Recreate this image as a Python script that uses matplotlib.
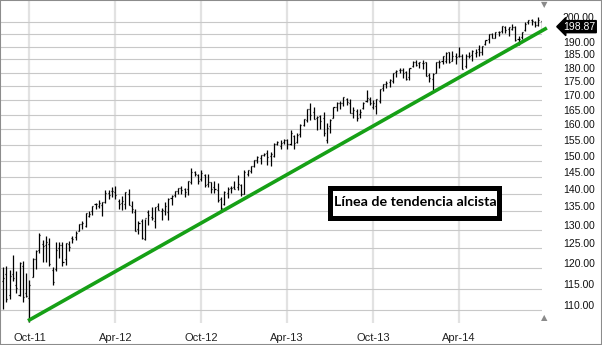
import matplotlib
matplotlib.use("Agg")
import matplotlib.pyplot as plt
import matplotlib.transforms as mtransforms
from matplotlib.patches import Rectangle
from matplotlib.ticker import FixedLocator, NullLocator, NullFormatter
import pandas as pd

# weekly bars, first week starts 2011-08-08
start_week = "2011-08-08"

opens = [
    116.9, 118.5, 113.5, 118.6, 116.0, 113.5, 120.5, 114.0, 112.7, 117.9,
    122.2, 124.7, 126.3, 125.8, 126.3, 119.5, 119.7, 125.0, 126.0, 122.2,
    126.2, 127.8, 128.0, 129.7, 131.4, 131.1, 133.8, 135.1, 137.1, 136.5,
    136.9, 137.6, 140.2, 140.9, 140.6, 138.0, 137.4, 137.0, 140.0, 136.5,
    134.9, 130.1, 132.4, 127.6, 134.9, 133.5, 132.2, 136.4, 135.0, 135.2,
    134.8, 138.8, 139.6, 140.8, 141.8, 141.3, 141.4, 143.6, 146.5, 145.6,
    144.4, 145.6, 143.0, 143.4, 142.0, 141.2, 138.4, 137.2, 140.2, 141.6,
    142.0, 142.0, 142.6, 139.9, 146.0, 146.9, 148.3, 150.3, 150.7, 151.6,
    152.4, 151.5, 151.4, 155.3, 154.6, 156.0, 156.6, 155.3, 158.0, 156.0,
    158.5, 161.6, 163.3, 166.9, 166.0, 163.9, 164.4, 164.0, 156.7, 161.3,
    163.9, 167.7, 169.2, 168.9, 170.6, 169.1, 165.6, 166.4, 165.2, 167.2,
    169.8, 170.4, 167.6, 167.9, 169.9, 174.4, 175.9, 176.7, 177.1, 180.1,
    181.0, 181.1, 180.4, 178.5, 182.4, 184.0, 183.5, 183.7, 184.1, 179.2,
    177.8, 180.0, 183.9, 184.3, 184.4, 187.8, 184.5, 186.5, 186.4, 186.5,
    182.5, 186.4, 186.9, 187.6, 189.0, 187.9, 191.1, 192.9, 195.1, 193.4,
    195.9, 196.1, 197.9, 197.2, 197.2, 198.0, 193.0, 194.0, 196.8, 200.1,
    200.9, 200.0, 198.6, 200.2,
]
highs = [
    120.2, 120.6, 119.5, 123.3, 119.4, 121.5, 121.7, 118.9, 117.0, 122.6,
    124.6, 129.1, 127.3, 128.2, 127.8, 120.2, 126.8, 126.8, 126.7, 126.5,
    126.9, 128.4, 129.6, 131.6, 132.3, 134.6, 135.2, 136.4, 137.3, 138.2,
    137.7, 141.0, 141.1, 142.0, 142.2, 138.6, 139.5, 140.6, 141.4, 137.8,
    135.7, 132.2, 133.0, 133.0, 135.3, 136.3, 136.3, 137.5, 136.0, 137.7,
    138.9, 139.6, 140.9, 141.8, 142.2, 141.8, 143.9, 147.7, 146.7, 146.0,
    147.1, 145.8, 146.0, 143.6, 143.7, 143.1, 139.1, 140.9, 142.0, 142.2,
    143.9, 145.5, 143.0, 147.0, 147.1, 148.3, 150.3, 151.4, 151.8, 152.5,
    153.3, 152.6, 155.5, 156.3, 156.5, 156.9, 157.0, 159.7, 158.1, 158.8,
    161.9, 163.4, 166.9, 169.1, 167.8, 164.4, 165.0, 166.0, 162.2, 163.5,
    167.8, 169.3, 169.9, 171.3, 170.8, 170.3, 167.6, 167.0, 167.0, 169.4,
    173.6, 171.0, 170.0, 170.3, 174.0, 176.0, 177.0, 177.5, 180.0, 181.0,
    181.8, 181.6, 180.8, 181.7, 184.3, 184.7, 184.1, 184.7, 184.2, 180.0,
    179.8, 184.0, 184.9, 186.3, 188.0, 188.0, 188.2, 187.4, 189.7, 187.1,
    187.1, 188.0, 188.5, 189.0, 190.5, 190.4, 192.8, 194.9, 195.4, 196.0,
    196.4, 198.3, 198.2, 198.1, 199.1, 198.3, 194.1, 196.0, 199.8, 200.6,
    201.2, 200.4, 201.9, 200.2,
]
lows = [
    110.3, 111.9, 112.5, 116.9, 114.0, 113.2, 111.9, 113.0, 107.4, 117.8,
    119.9, 123.8, 121.5, 121.6, 120.6, 115.8, 119.2, 122.6, 120.6, 120.9,
    124.4, 126.4, 127.1, 129.6, 130.2, 130.6, 133.4, 133.9, 135.8, 136.0,
    133.7, 137.3, 138.5, 139.0, 138.5, 135.8, 135.5, 135.7, 136.7, 134.6,
    129.5, 128.7, 127.6, 127.1, 131.2, 132.5, 130.3, 135.3, 132.6, 134.1,
    132.6, 136.9, 139.2, 139.9, 139.9, 139.1, 139.6, 142.9, 145.3, 142.9,
    143.7, 142.1, 142.0, 140.3, 140.3, 137.6, 134.7, 136.9, 138.8, 140.2,
    141.3, 141.1, 139.5, 139.9, 145.3, 146.3, 147.9, 149.3, 148.8, 151.4,
    148.7, 148.2, 151.2, 154.8, 153.7, 155.2, 153.6, 154.9, 153.6, 155.7,
    157.6, 161.3, 162.4, 163.2, 163.5, 159.7, 160.3, 157.7, 155.7, 158.8,
    163.8, 166.4, 167.1, 168.1, 168.3, 165.5, 163.7, 163.0, 163.8, 166.8,
    169.3, 168.5, 166.9, 165.3, 168.9, 173.3, 174.3, 174.9, 176.2, 178.5,
    180.0, 178.0, 177.3, 177.3, 182.2, 182.5, 181.6, 181.3, 178.8, 176.6,
    173.7, 179.8, 181.7, 183.4, 183.8, 183.8, 184.3, 183.3, 186.1, 181.3,
    181.7, 185.5, 184.6, 186.0, 186.5, 186.8, 190.7, 191.6, 193.4, 193.3,
    194.3, 195.4, 195.6, 194.4, 196.5, 192.1, 190.5, 193.0, 196.2, 199.2,
    198.6, 198.1, 198.3, 196.6,
]
closes = [
    117.6, 112.6, 118.1, 117.5, 115.1, 121.2, 113.1, 113.2, 116.0, 122.4,
    124.3, 128.6, 125.7, 126.7, 121.1, 116.6, 124.6, 125.9, 121.6, 126.4,
    125.5, 127.6, 129.1, 131.5, 131.8, 134.5, 134.4, 136.4, 137.1, 137.3,
    137.6, 140.3, 139.7, 140.8, 139.8, 137.2, 137.8, 140.4, 136.8, 135.7,
    129.7, 131.7, 127.7, 133.1, 134.1, 133.1, 136.1, 135.5, 135.4, 136.5,
    138.6, 139.3, 140.8, 141.8, 141.2, 140.6, 143.8, 146.6, 146.0, 143.9,
    146.1, 142.5, 143.4, 141.4, 141.3, 138.2, 136.0, 140.6, 141.5, 141.8,
    141.4, 142.8, 140.0, 146.4, 147.1, 148.3, 150.3, 151.2, 151.8, 152.1,
    151.0, 152.1, 155.4, 156.0, 155.6, 156.7, 155.2, 158.8, 155.5, 158.2,
    161.4, 163.4, 166.9, 164.8, 163.5, 164.1, 163.0, 159.0, 160.4, 163.1,
    167.5, 169.2, 169.1, 171.0, 169.3, 165.5, 166.6, 163.7, 166.0, 168.9,
    170.7, 169.1, 169.2, 170.3, 174.0, 175.9, 176.2, 177.3, 180.0, 180.6,
    181.0, 180.0, 177.7, 181.6, 184.0, 182.9, 184.1, 183.6, 178.9, 178.2,
    179.7, 184.0, 183.9, 186.3, 187.7, 184.1, 186.2, 185.8, 186.4, 181.5,
    186.4, 186.3, 188.3, 187.9, 187.9, 190.4, 192.7, 194.9, 193.5, 195.9,
    196.0, 198.2, 196.6, 197.7, 197.9, 192.5, 193.2, 195.7, 199.2, 200.7,
    200.2, 198.6, 201.0, 198.87,
]

last_value = 198.87

trend_dates = ["2011-09-30", "2014-10-03"]
trend_values = [107.6, 197.5]

grid_values = [110, 115, 120, 125, 130, 135, 140, 145, 150, 155,
               160, 165, 170, 175, 180, 185, 190, 195, 200]
month_dates = ["2011-10-03", "2012-04-02", "2012-10-01",
               "2013-04-01", "2013-09-30", "2014-03-31"]
month_labels = ["Oct-11", "Apr-12", "Oct-12", "Apr-13", "Oct-13", "Apr-14"]

annotation = "Línea de tendencia alcista"

W, H = 602, 345
dates = pd.date_range(start_week, periods=len(closes), freq="7D")
tick_len = pd.Timedelta(days=2.2)

fig = plt.figure(figsize=(W / 100, H / 100), dpi=100)
ax = fig.add_axes([1 / W, 22 / H, 541 / W, 323 / H])

ax.set_yscale("log")
ax.set_ylim(107.1, 209.3)
ax.set_xlim(dates[0] - pd.Timedelta(days=4.2), dates[0] + pd.Timedelta(days=163.1 * 7))

for s in ax.spines.values():
    s.set_visible(False)

# grid
ax.yaxis.set_major_locator(FixedLocator(grid_values))
ax.yaxis.set_minor_locator(NullLocator())
ax.yaxis.set_minor_formatter(NullFormatter())
ax.set_yticklabels([f"{v:.2f}" for v in grid_values])
ax.grid(axis="y", color="#c8c8c8", linewidth=0.8)
ax.set_xticks(pd.to_datetime(month_dates))
ax.set_xticklabels(month_labels)
ax.grid(axis="x", color="#e2e2e2", linewidth=1.6)
ax.set_axisbelow(True)

ax.yaxis.tick_right()
ax.tick_params(axis="y", length=0, pad=15, labelsize=7.5, labelcolor="#111111")
ax.tick_params(axis="x", length=0, pad=7.5, labelsize=8, labelcolor="#222222")
for lbl in ax.get_yticklabels() + ax.get_xticklabels():
    lbl.set_family(["Liberation Sans", "DejaVu Sans"])
# price labels sit a little above their grid line
offset = mtransforms.ScaledTranslation(0, 5 / 100, fig.dpi_scale_trans)
for tick in ax.yaxis.get_major_ticks():
    tick.label2.set_transform(tick.label2.get_transform() + offset)
ax.get_yticklabels()[-2].set_visible(False)

# OHLC bars
ax.vlines(dates, lows, highs, color="black", linewidth=0.9)
ax.hlines(opens, dates - tick_len, dates, color="black", linewidth=0.9)
ax.hlines(closes, dates, dates + tick_len, color="black", linewidth=0.9)

# trend line
ax.plot(pd.to_datetime(trend_dates), trend_values, color="#16a016",
        linewidth=2.6, solid_capstyle="butt", clip_on=False, zorder=5)

# last value marker
yt = mtransforms.blended_transform_factory(ax.transAxes, ax.transData)
down = mtransforms.ScaledTranslation(0, -2 / 100, fig.dpi_scale_trans)
ax.text(1.039, last_value, f"{last_value:.2f}", transform=yt + down, ha="left", va="center",
        fontsize=7.5, color="white", family=["Liberation Sans", "DejaVu Sans"],
        bbox=dict(boxstyle="larrow,pad=0.1", fc="black", ec="black"), zorder=6)

# scroll arrows
ax.text(1.004, 0.985, "▼", transform=ax.transAxes, ha="center", va="center",
        fontsize=6, color="#8a8a8a", clip_on=False)
ax.text(1.004, 0.016, "▲", transform=ax.transAxes, ha="center", va="center",
        fontsize=6, color="#8a8a8a", clip_on=False)

# annotation box (pixel box 328..502 x 185..220)
bx0, bx1, by0, by1 = 330.5, 499.5, 187.5, 217.5
ax.add_patch(Rectangle(((bx0 - 1) / 541, 1 - by1 / 323), (bx1 - bx0) / 541, (by1 - by0) / 323,
                       transform=ax.transAxes, fc="white", ec="black", lw=3.6, zorder=7))
ax.text(((bx0 + bx1) / 2 - 1) / 541, 1 - (by0 + by1) / 2 / 323, annotation,
        transform=ax.transAxes, ha="center", va="center", fontsize=10.3,
        fontweight="bold", color="black", family=["Lato", "DejaVu Sans"], zorder=8)

# outer frame
fig.patches.append(Rectangle((0, 0), 1, 1, transform=fig.transFigure, fill=False,
                             edgecolor="#8c8c8c", linewidth=1.5))

fig.savefig("out.png", dpi=100)
